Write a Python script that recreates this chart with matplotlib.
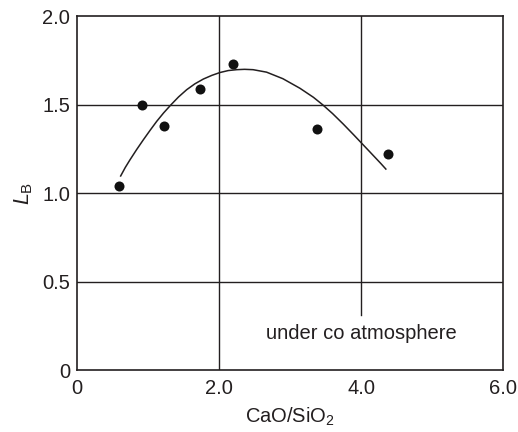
import matplotlib
matplotlib.use("Agg")
import matplotlib.pyplot as plt

plt.rcParams['font.family'] = ['Liberation Sans', 'DejaVu Sans']
plt.rcParams['mathtext.fontset'] = 'custom'
plt.rcParams['mathtext.rm'] = 'Liberation Sans'
plt.rcParams['mathtext.it'] = 'Liberation Sans:italic'

# Measured data points
ratio = [0.59, 0.92, 1.22, 1.73, 2.20, 3.38, 4.38]
lb = [1.04, 1.50, 1.38, 1.59, 1.73, 1.36, 1.22]

# Fitted curve
curve_x = [0.615, 0.68, 0.746, 0.84, 0.934, 1.03, 1.122, 1.22, 1.324, 1.43, 1.545,
           1.66, 1.779, 1.90, 2.014, 2.13, 2.249, 2.36, 2.48, 2.67, 2.90, 3.14,
           3.33, 3.46, 3.60, 3.75, 3.90, 4.03, 4.12, 4.20, 4.28, 4.35]
curve_y = [1.097, 1.145, 1.188, 1.246, 1.301, 1.355, 1.405, 1.453, 1.499, 1.543, 1.584,
           1.617, 1.644, 1.665, 1.681, 1.692, 1.697, 1.699, 1.697, 1.683, 1.646, 1.592,
           1.541, 1.499, 1.449, 1.390, 1.328, 1.273, 1.235, 1.201, 1.167, 1.136]

xticks = [0, 2, 4, 6]
xticklabels = ['0', '2.0', '4.0', '6.0']
yticks = [0, 0.5, 1.0, 1.5, 2.0]
yticklabels = ['0', '0.5', '1.0', '1.5', '2.0']

ink = '#231f20'
fs = 14.5

fig = plt.figure(figsize=(5.18, 4.32), dpi=100)
ax = fig.add_axes([77/518, 1 - 370.3/432, (503-77)/518, (370.3-16)/432])
ax.set_xlim(0, 6)
ax.set_ylim(0, 2)

for y in [0.5, 1.0, 1.5]:
    ax.axhline(y, color=ink, lw=1.0, zorder=1)
ax.axvline(2.0, color=ink, lw=1.0, zorder=1)
ax.axvline(4.0, ymin=0.155, ymax=1, color=ink, lw=1.0, zorder=1)

ax.plot(curve_x, curve_y, color=ink, lw=1.1, zorder=2)
ax.scatter(ratio, lb, s=52, color='#111111', zorder=3, linewidths=0)

ax.text(4.0, 0.21, 'under co atmosphere', ha='center', va='center', fontsize=fs, color=ink)

ax.set_xticks(xticks)
ax.set_xticklabels(xticklabels)
ax.set_yticks(yticks)
ax.set_yticklabels(yticklabels)
ax.tick_params(length=0, labelsize=fs, colors=ink)
ax.tick_params(axis='x', pad=6)
ax.tick_params(axis='y', pad=5)
for s in ax.spines.values():
    s.set_color(ink)
    s.set_linewidth(1.2)

ax.set_xlabel('CaO/SiO$_2$', fontsize=fs, color=ink, labelpad=6)
ax.set_ylabel('$L_{\\mathrm{B}}$', fontsize=fs + 1, color=ink, labelpad=5)

fig.savefig('out.png', dpi=100)
